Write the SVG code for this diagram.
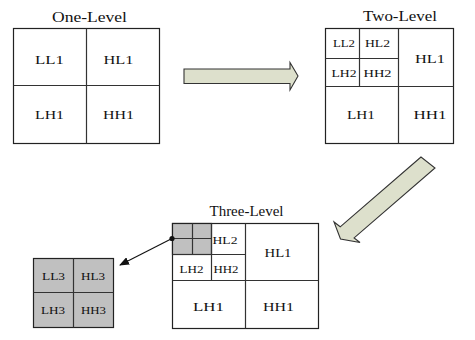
<svg xmlns="http://www.w3.org/2000/svg" width="475" height="340" viewBox="0 0 475 340">
<defs>
<style>
.bg{fill:#fff}
.box{fill:#fff;stroke:#222;stroke-width:1.2}
.div{fill:none;stroke:#333;stroke-width:1.2}
.gray{fill:#c0c0c0;stroke:#222;stroke-width:1.2}
.t{font-family:"Liberation Serif","Times New Roman",serif;fill:#111;text-anchor:middle}
.ttl{font-size:14px}
.l1{font-size:13px}
.l2{font-size:11px}
.l3{font-size:10px}
.big{fill:#dde0cc;stroke:#333;stroke-width:1.1;stroke-linejoin:miter}
.ptr{fill:none;stroke:#111;stroke-width:1.1}
</style>
<marker id="ah" viewBox="0 0 10 8" refX="9" refY="4" markerWidth="10" markerHeight="8" markerUnits="userSpaceOnUse" orient="auto">
<path d="M0,0 L10,4 L0,8 Z" fill="#111"/>
</marker>
</defs>
<rect class="bg" x="0" y="0" width="475" height="340"/>

<g id="one-level">
<text class="t ttl" x="89.5" y="21.5" textLength="75" lengthAdjust="spacingAndGlyphs">One-Level</text>
<rect class="box" x="13.5" y="28.5" width="146" height="115"/>
<path class="div" d="M86.5,28.5 V143.5 M13.5,85.5 H159.5"/>
<text class="t l1" x="49.5" y="63.5" textLength="29" lengthAdjust="spacingAndGlyphs">LL1</text>
<text class="t l1" x="118.5" y="63.5" textLength="30" lengthAdjust="spacingAndGlyphs">HL1</text>
<text class="t l1" x="49.5" y="118.5" textLength="29" lengthAdjust="spacingAndGlyphs">LH1</text>
<text class="t l1" x="118.5" y="118.5" textLength="31" lengthAdjust="spacingAndGlyphs">HH1</text>
</g>

<g id="two-level">
<text class="t ttl" x="400" y="21" textLength="74" lengthAdjust="spacingAndGlyphs">Two-Level</text>
<rect class="box" x="325.5" y="28.5" width="128" height="115"/>
<path class="div" d="M398.5,28.5 V143.5 M325.5,86.5 H453.5 M359.5,28.5 V86.5 M325.5,58.5 H398.5"/>
<text class="t l2" x="344" y="47" textLength="22" lengthAdjust="spacingAndGlyphs">LL2</text>
<text class="t l2" x="377.5" y="47" textLength="25" lengthAdjust="spacingAndGlyphs">HL2</text>
<text class="t l2" x="344" y="77" textLength="25" lengthAdjust="spacingAndGlyphs">LH2</text>
<text class="t l2" x="377.5" y="77" textLength="28" lengthAdjust="spacingAndGlyphs">HH2</text>
<text class="t l1" x="430" y="62.5" textLength="30" lengthAdjust="spacingAndGlyphs">HL1</text>
<text class="t l1" x="361" y="118.5" textLength="28" lengthAdjust="spacingAndGlyphs">LH1</text>
<text class="t l1" x="430" y="118.5" textLength="33" lengthAdjust="spacingAndGlyphs">HH1</text>
</g>

<g id="three-level">
<text class="t ttl" x="246.5" y="216" textLength="74" lengthAdjust="spacingAndGlyphs">Three-Level</text>
<rect class="box" x="172.5" y="223.5" width="146" height="105"/>
<rect class="gray" x="172.5" y="223.5" width="39" height="31"/>
<path class="div" d="M245.5,223.5 V328.5 M172.5,280.5 H318.5 M211.5,223.5 V280.5 M172.5,254.5 H245.5 M192.5,223.5 V254.5 M172.5,238.5 H211.5"/>
<text class="t l2" x="225" y="243.5" textLength="25" lengthAdjust="spacingAndGlyphs">HL2</text>
<text class="t l2" x="191.5" y="272.5" textLength="24" lengthAdjust="spacingAndGlyphs">LH2</text>
<text class="t l2" x="226" y="272.5" textLength="25" lengthAdjust="spacingAndGlyphs">HH2</text>
<text class="t l1" x="278" y="257" textLength="27" lengthAdjust="spacingAndGlyphs">HL1</text>
<text class="t l1" x="208.5" y="311" textLength="31" lengthAdjust="spacingAndGlyphs">LH1</text>
<text class="t l1" x="278.5" y="311" textLength="31" lengthAdjust="spacingAndGlyphs">HH1</text>
</g>

<g id="level3-detail">
<rect class="gray" x="33.5" y="258.5" width="80" height="69"/>
<path class="div" d="M73.5,258.5 V327.5 M33.5,292.5 H113.5"/>
<text class="t l3" x="53.5" y="279.5" textLength="23" lengthAdjust="spacingAndGlyphs">LL3</text>
<text class="t l3" x="93" y="279.5" textLength="24" lengthAdjust="spacingAndGlyphs">HL3</text>
<text class="t l3" x="53" y="314" textLength="24" lengthAdjust="spacingAndGlyphs">LH3</text>
<text class="t l3" x="93.5" y="314" textLength="25" lengthAdjust="spacingAndGlyphs">HH3</text>
</g>

<g id="connectors">
<polygon class="big" points="184,69 290,69 290,62.5 298,76 290,90 290,83.5 184,83.5"/>
<polygon class="big" points="421,157 340.2,226.8 334,222 340.5,239 360,242.5 354.1,237.9 435,168"/>
<line class="ptr" x1="172" y1="238.5" x2="120" y2="265" marker-end="url(#ah)"/>
<circle cx="172" cy="238.5" r="2.6" fill="#111"/>
</g>
</svg>
